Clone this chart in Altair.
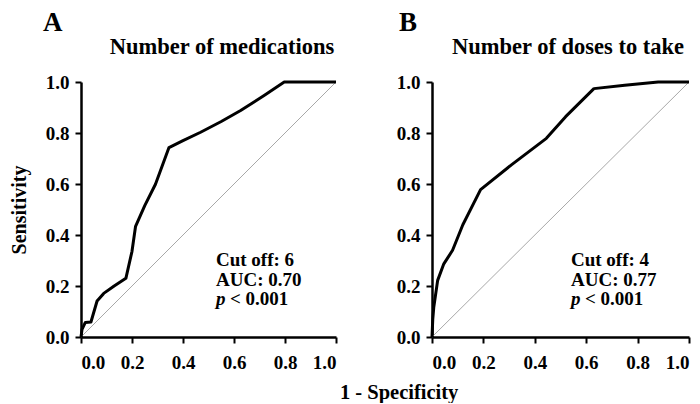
import altair as alt
import pandas as pd

# Panel A: Number of medications
a_fpr = [0, 0.004, 0.017, 0.039, 0.063, 0.089, 0.13, 0.176, 0.2, 0.214, 0.25, 0.292, 0.345, 0.40, 0.469, 0.55, 0.626, 0.718, 0.797, 1.0]
a_tpr = [0, 0.03, 0.057, 0.059, 0.141, 0.171, 0.20, 0.23, 0.336, 0.434, 0.515, 0.599, 0.743, 0.77, 0.803, 0.845, 0.888, 0.947, 1.0, 1.0]

# Panel B: Number of doses to take
b_fpr = [0, 0.003, 0.007, 0.022, 0.046, 0.08, 0.12, 0.189, 0.309, 0.445, 0.52, 0.63, 0.75, 0.88, 1.0]
b_tpr = [0, 0.07, 0.118, 0.222, 0.287, 0.34, 0.44, 0.578, 0.675, 0.779, 0.864, 0.974, 0.987, 1.0, 1.0]

ref_x = [0, 1]
ref_y = [0, 1]
ticks = [0, 0.2, 0.4, 0.6, 0.8, 1.0]

FONT = "Liberation Serif"


def panel(fpr, tpr, letter, title, cutoff, auc, width, show_ytitle, letter_x, title_x, text_x):
    df = pd.DataFrame({"fpr": fpr, "tpr": tpr, "i": list(range(len(fpr)))})
    ref = pd.DataFrame({"fpr": ref_x, "tpr": ref_y})
    xs = alt.Scale(domain=[0, 1], nice=False)
    ys = alt.Scale(domain=[0, 1], nice=False)
    xax = alt.Axis(values=ticks, format=".1f", title=None)
    if show_ytitle:
        yax = alt.Axis(values=ticks, format=".1f", title="Sensitivity")
    else:
        yax = alt.Axis(values=ticks, format=".1f", title=None)

    diag = alt.Chart(ref).mark_line(color="#a8a8a8", strokeWidth=1).encode(
        x=alt.X("fpr:Q", scale=xs, axis=xax),
        y=alt.Y("tpr:Q", scale=ys, axis=yax),
    )
    curve = alt.Chart(df).mark_line(color="black", strokeWidth=3, strokeJoin="round").encode(
        x=alt.X("fpr:Q", scale=xs),
        y=alt.Y("tpr:Q", scale=ys),
        order="i:Q",
    )

    def txt(s, x, y, size, style="normal", align="left", baseline="alphabetic"):
        return alt.Chart(pd.DataFrame({"s": [s]})).mark_text(
            font=FONT, fontWeight="bold", fontSize=size, fontStyle=style,
            align=align, baseline=baseline, color="black",
        ).encode(text="s:N", x=alt.value(x), y=alt.value(y))

    layers = [
        diag,
        curve,
        txt(letter, letter_x, -51, 27),
        txt(title, title_x, -28, 22.5, align="center"),
        txt("Cut off: " + cutoff, text_x, 184, 19),
        txt("AUC: " + auc, text_x, 204, 19),
        txt("p", text_x, 223, 19, style="italic"),
        txt("< 0.001", text_x + 14, 223, 19),
    ]
    return alt.layer(*layers).properties(width=width, height=255)


pa = panel(a_fpr, a_tpr, "A", "Number of medications", "6", "0.70", 255, True, -38, 141, 135)
pb = panel(b_fpr, b_tpr, "B", "Number of doses to take", "4", "0.77", 257, False, -33, 136, 139)

chart = alt.hconcat(pa, pb, spacing=96, bounds="flush").properties(
    padding={"top": 0, "left": 0, "right": 0, "bottom": 0},
    title=alt.TitleParams(
        text="1 - Specificity", orient="bottom", anchor="middle", dx=49,
        font=FONT, fontSize=20.5, fontWeight="bold", color="black", offset=10,
    ),
).configure_view(stroke="transparent").configure_axis(
    grid=False,
    domainColor="black", domainWidth=2.5,
    tickColor="black", tickWidth=2, tickSize=6,
    labelFont=FONT, labelFontSize=19, labelFontWeight="bold", labelColor="black",
    labelPadding=6,
    titleFont=FONT, titleFontSize=20, titleFontWeight="bold", titleColor="black",
    titlePadding=16,
).configure_axisX(labelPadding=10)

chart.save("out.html", embed_options={"renderer": "svg", "actions": False})
